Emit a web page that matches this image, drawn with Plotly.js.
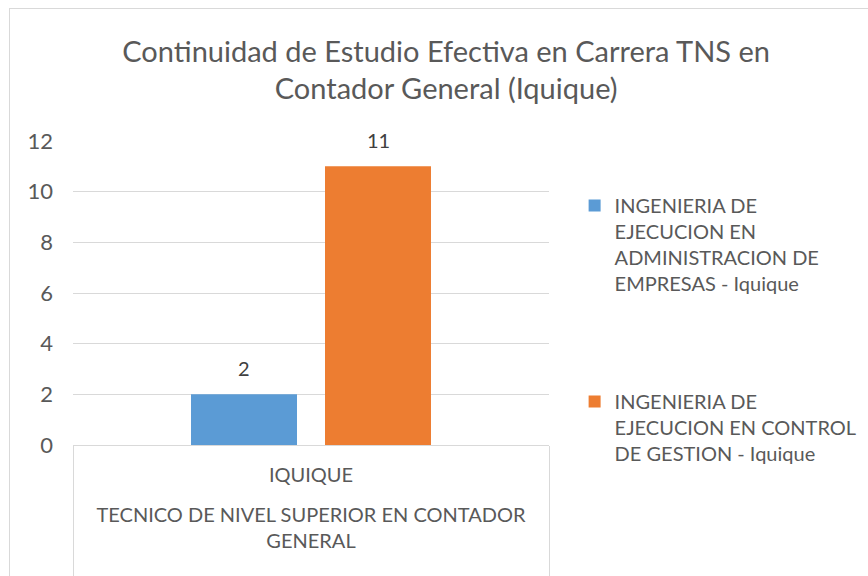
<!DOCTYPE html>
<html>
<head>
<meta charset="utf-8">
<script src="https://cdn.plot.ly/plotly-3.0.1.min.js"></script>
<style>
  html, body { margin: 0; padding: 0; background: #ffffff; overflow: hidden; }
  #chart { position: absolute; left: 0; top: 0; width: 868px; height: 576px; }
  #frame { position: absolute; left: 9px; top: 8px; width: 900px; height: 600px;
           border-left: 1px solid #d9d9d9; border-top: 1px solid #d9d9d9; pointer-events: none; }
</style>
</head>
<body>
<div id="chart"></div>
<div id="frame"></div>
<script>
const titleText = "Continuidad de Estudio Efectiva en Carrera TNS en<br>Contador General (Iquique)";
const outerCategory = ["TECNICO DE NIVEL SUPERIOR EN CONTADOR<br>GENERAL<br>&nbsp;"];
const innerCategory = ["IQUIQUE<br>&nbsp;"];
const seriesNames = [
  "INGENIERIA DE<br>EJECUCION EN<br>ADMINISTRACION DE<br>EMPRESAS - Iquique",
  "INGENIERIA DE<br>EJECUCION EN CONTROL<br>DE GESTION - Iquique"
];
const seriesValues = [[2], [11]];
const seriesColors = ["#5b9bd5", "#ed7d31"];
const yTicks = [0, 2, 4, 6, 8, 10, 12];

const FONT = "Lato, 'Open Sans', sans-serif";
const BARGAP = 0.437;
const BARGROUPGAP = 0.209;

const traces = seriesNames.map((name, i) => ({
  type: "bar",
  name: name,
  x: [outerCategory, innerCategory],
  y: seriesValues[i],
  marker: { color: seriesColors[i] },
  legendgroup: "g" + i,
  hoverinfo: "skip"
}));

// data labels: placed above each bar, at the bar's own group offset
const nSeries = seriesNames.length;
const slot = (1 - BARGAP) / nSeries;
const annotations = [];
seriesValues.forEach((vals, i) => {
  vals.forEach((v, j) => {
    annotations.push({
      xref: "x", yref: "y",
      x: j - (1 - BARGAP) / 2 + slot * (i + 0.5),
      y: v,
      text: String(v),
      showarrow: false,
      xanchor: "center", yanchor: "bottom",
      yshift: 12,
      font: { family: FONT, size: 20, color: "#404040" }
    });
  });
});

const layout = {
  width: 868, height: 576,
  margin: { l: 73, r: 319, t: 141, b: 131, pad: 0 },
  paper_bgcolor: "#ffffff",
  plot_bgcolor: "#ffffff",
  font: { family: FONT, color: "#595959", size: 20 },
  title: {
    text: titleText,
    font: { family: FONT, size: 29, color: "#595959" },
    x: 0.514, xref: "container", xanchor: "center",
    y: 0.893, yref: "container", yanchor: "top"
  },
  barmode: "group",
  bargap: BARGAP,
  bargroupgap: BARGROUPGAP,
  showlegend: true,
  legend: {
    xref: "container", yref: "container",
    x: 0.662, xanchor: "left",
    y: 0.677, yanchor: "top",
    traceorder: "grouped",
    tracegroupgap: 89,
    valign: "top",
    font: { family: FONT, size: 20, color: "#595959" },
    bgcolor: "rgba(0,0,0,0)"
  },
  annotations: annotations,
  xaxis: {
    type: "multicategory",
    showline: true, linecolor: "#d9d9d9", linewidth: 1,
    showgrid: false,
    ticks: "",
    ticklabelstandoff: 12,
    tickfont: { family: FONT, size: 20, color: "#595959" },
    showdividers: true, dividercolor: "#d9d9d9", dividerwidth: 1,
    fixedrange: true
  },
  yaxis: {
    range: [0, 12],
    tickvals: yTicks,
    ticktext: yTicks.map(String),
    showgrid: true, gridcolor: "#d9d9d9", gridwidth: 1,
    zeroline: true, zerolinecolor: "#d9d9d9",
    showline: false,
    ticks: "",
    ticklabelstandoff: 19,
    tickfont: { family: FONT, size: 22, color: "#595959" },
    fixedrange: true
  }
};

Plotly.newPlot("chart", traces, layout, { displayModeBar: false, staticPlot: true });
</script>
</body>
</html>
